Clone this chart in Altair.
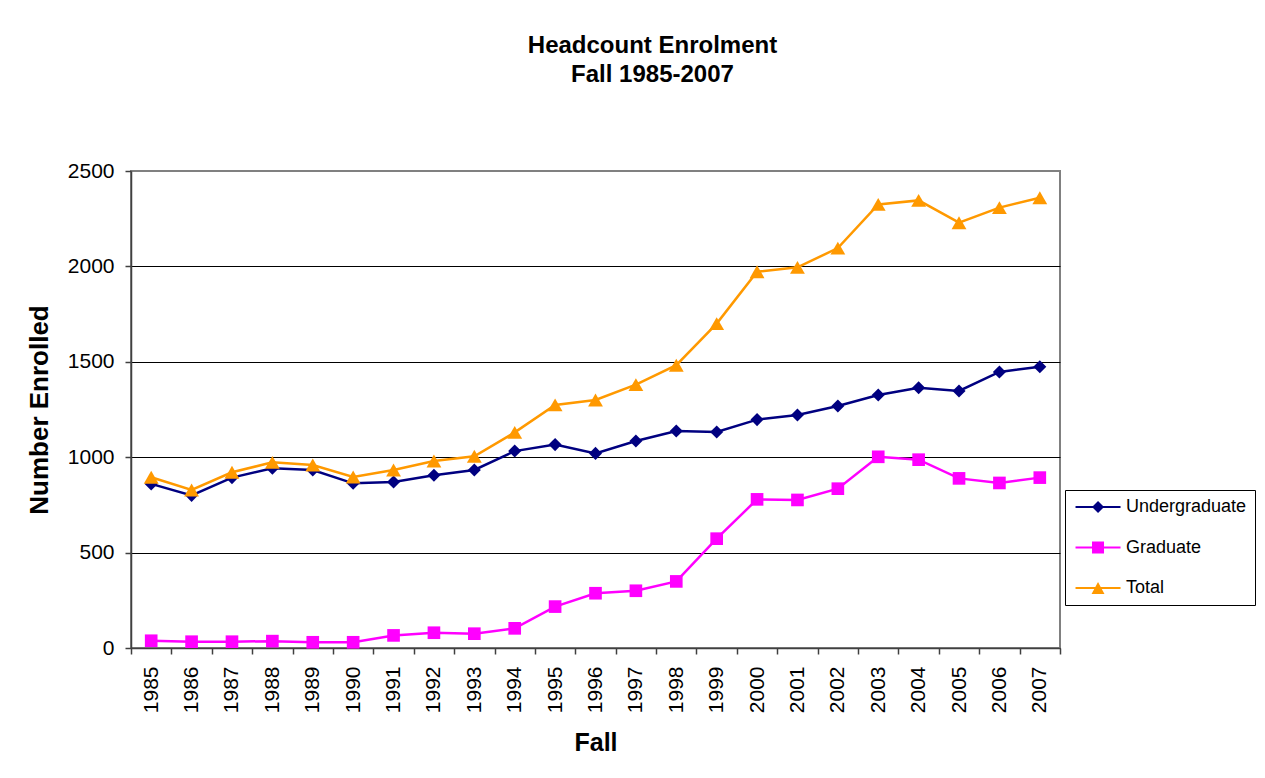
import altair as alt
import pandas as pd

years = [str(y) for y in range(1985, 2008)]
undergrad = [860, 800, 893, 942, 933, 863, 870, 905, 933, 1032, 1066, 1020,
             1085, 1137, 1132, 1197, 1221, 1268, 1326, 1364, 1347, 1447, 1474]
graduate = [38, 33, 33, 36, 30, 30, 66, 80, 75, 103, 217, 287,
            300, 349, 573, 779, 776, 835, 1002, 987, 889, 865, 893]
total = [895, 828, 921, 973, 959, 896, 933, 980, 1005, 1130, 1274, 1300,
         1380, 1482, 1700, 1972, 1995, 2096, 2325, 2346, 2229, 2308, 2360]
series = ["Undergraduate", "Graduate", "Total"]
colors = ["#000080", "#FF00FF", "#FF9900"]
y_ticks = [0, 500, 1000, 1500, 2000, 2500]

rows = []
for name, vals in zip(series, [undergrad, graduate, total]):
    for yr, v in zip(years, vals):
        rows.append({"Fall": yr, "Enrolled": v, "Series": name})
df = pd.DataFrame(rows)

FONT = "Liberation Sans"
AX = "#404040"

x_enc = alt.X(
    "Fall:O",
    sort=years,
    scale=alt.Scale(type="band", paddingInner=0, paddingOuter=0),
    axis=alt.Axis(
        title="Fall", labelAngle=270, labelFontSize=21, labelPadding=12,
        tickBand="extent", tickSize=6, grid=False,
        titleFontSize=25, titleFontWeight="bold", titleY=102,
        titleBaseline="alphabetic",
    ),
)
y_enc = alt.Y(
    "Enrolled:Q",
    scale=alt.Scale(domain=[0, 2500], nice=False),
    axis=alt.Axis(
        values=y_ticks, format="d", title="Number Enrolled", labelFontSize=21,
        labelPadding=11, tickSize=6, grid=True, gridColor="black",
        gridWidth=1,
        gridOpacity=alt.condition("datum.value == 2500", alt.value(0), alt.value(1)),
        titleFontSize=26, titleFontWeight="bold", titleAngle=270,
        titleX=-84, titleY=238.5, titleAlign="center",
        titleBaseline="alphabetic",
    ),
)
color_scale = alt.Scale(domain=series, range=colors)

base = alt.Chart(df)

lines = base.mark_line(strokeWidth=2.5).encode(
    x=x_enc, y=y_enc,
    color=alt.Color("Series:N", scale=color_scale, legend=None),
)

shapes = ["diamond", "square", "triangle-up"]
sizes = [170, 160, 220]
point_layers = []
for name, shp, sz in zip(series, shapes, sizes):
    point_layers.append(
        base.transform_filter(alt.datum.Series == name)
        .mark_point(shape=shp, filled=True, size=sz, opacity=1)
        .encode(
            x=x_enc, y=y_enc,
            color=alt.Color("Series:N", scale=color_scale, legend=None),
        )
    )

line_part = "M-1.08,-0.17L6.42,-0.17L6.42,0.17L-1.08,0.17Z"
legend_paths = [
    line_part + "M2.67,-1L3.67,0L2.67,1L1.67,0Z",
    line_part + "M1.67,-1L3.67,-1L3.67,1L1.67,1Z",
    line_part + "M2.67,-1L3.75,1L1.59,1Z",
]

leg = alt.Legend(
    title=None, orient="none", legendX=934, legendY=319,
    padding=8, rowPadding=22.5, labelFontSize=18, labelFont=FONT,
    labelColor="black", labelOffset=35, symbolSize=144,
    symbolStrokeWidth=0, strokeColor="black", fillColor="white",
)

legend_layer = (
    base.transform_filter("false")
    .mark_point(filled=True, opacity=1)
    .encode(
        x=x_enc, y=y_enc,
        color=alt.Color("Series:N", scale=color_scale, legend=leg),
        shape=alt.Shape("Series:N", scale=alt.Scale(domain=series, range=legend_paths), legend=leg),
    )
)

chart = (
    alt.layer(lines, *point_layers, legend_layer)
    .resolve_legend(color="independent", shape="independent")
    .properties(
        width=929, height=477,
        autosize=alt.AutoSizeParams(type="none"),
        padding={"left": 123, "top": 163, "right": 197, "bottom": 115},
        background="white",
        title=alt.Title(
            ["Headcount Enrolment", "Fall 1985-2007"],
            fontSize=24, font=FONT, fontWeight="bold", lineHeight=29,
            anchor="middle", dx=57, offset=73, color="black",
        ),
    )
    .configure_view(stroke="#808080", strokeWidth=2)
    .configure_axis(
        labelFont=FONT, titleFont=FONT, labelColor="black", titleColor="black",
        domainColor=AX, tickColor=AX, domainWidth=1.5, tickWidth=1.5,
    )
)

chart.save("out.html", embed_options={"renderer": "svg", "actions": False})
